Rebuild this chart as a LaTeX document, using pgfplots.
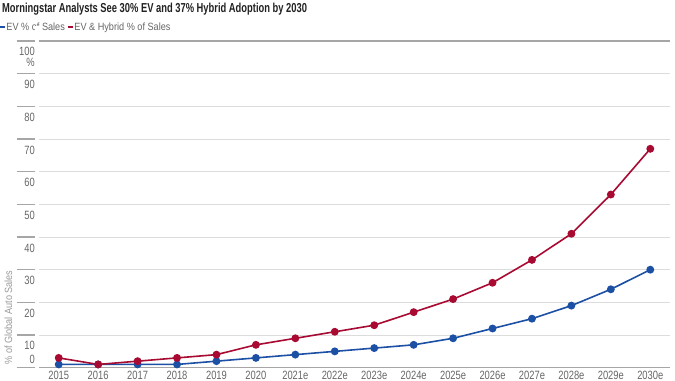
\documentclass[border=0pt]{standalone}
\usepackage{fontspec}
\setmainfont{Liberation Sans}
\newfontfamily\condfont[FakeStretch=0.78]{Liberation Sans}
\newfontfamily\legcondfont[FakeStretch=0.87]{Liberation Sans}
\newfontfamily\titlecondfont[FakeStretch=0.72]{Liberation Sans}
\usepackage{pgfplots}
\pgfplotsset{compat=1.18}
\definecolor{evblue}{HTML}{1B50A5}
\definecolor{hybred}{HTML}{A80A32}
\definecolor{tickgray}{HTML}{666666}
\definecolor{gridgray}{HTML}{DCDCDC}
\definecolor{linegray}{HTML}{A6A6A6}
\definecolor{labgray}{HTML}{9A9A9A}
\newcommand\tickfont{\condfont\fontsize{12bp}{11bp}\selectfont}
\newcommand\legfont{\legcondfont\fontsize{10.5bp}{12bp}\selectfont}
\begin{document}
\begin{tikzpicture}
\useasboundingbox (0,0) rectangle (675bp,381bp);
\begin{axis}[
  at={(39bp,13.3bp)}, anchor=south west,
  scale only axis, width=631bp, height=326.7bp,
  xmin=-0.5, xmax=15.5, ymin=0, ymax=100,
  separate axis lines,
  x axis line style={draw=linegray, line width=1.2bp},
  y axis line style={draw=none},
  xtick={0,...,15},
  xticklabels={2015,2016,2017,2018,2019,2020,2021e,2022e,2023e,2024e,2025e,2026e,2027e,2028e,2029e,2030e},
  ytick={0,10,...,100},
  yticklabels={,,,,,,,,,,},
  tick align=outside,
  major tick length=22.3bp,
  xtick pos=bottom, ytick pos=left,
  xtick style={draw=none},
  ytick style={draw=linegray, line width=1.2bp},
  ymajorgrids,
  grid style={draw=gridgray, line width=1bp},
  extra y ticks={95.3,86.63,76.63,66.63,56.63,46.63,36.63,26.63,16.63,6.7,2.5},
  extra y tick labels={{100\\\%},90,80,70,60,50,40,30,20,10,0},
  extra y tick style={grid=none, major tick length=0pt, tick style={draw=none}},
  yticklabel style={font=\tickfont, text=tickgray, align=right, anchor=east, inner xsep=4bp},
  xticklabel style={font=\tickfont, text=tickgray, anchor=north, inner ysep=3.5bp},
  xticklabel shift=-22.3bp,
  ylabel={\% of Global Auto Sales},
  ylabel style={at={(axis description cs:-0.0487,0.1537)}, anchor=center, font=\legfont, text=labgray},
  legend columns=-1,
  legend style={at={(axis description cs:-0.0634,1)}, anchor=south west, yshift=8.8bp,
    draw=none, fill=none, inner sep=0pt, font=\legfont, text=tickgray,
    nodes={inner sep=0.3bp},
    /tikz/every odd column/.append style={column sep=0bp},
    /tikz/every even column/.append style={column sep=2bp}},
  legend image code/.code={\draw[#1, mark=none, line width=2bp] (0bp,0bp) -- (5bp,0bp);},
]
\addplot[evblue, line width=1.6bp, mark=*, mark size=3.1bp] coordinates {
 (0,1) (1,1) (2,1) (3,1) (4,2) (5,3) (6,4) (7,5) (8,6) (9,7) (10,9) (11,12) (12,15) (13,19) (14,24) (15,30)};
\addlegendentry{EV \% of Sales}
\addplot[hybred, line width=1.6bp, mark=*, mark size=3.1bp] coordinates {
 (0,3) (1,1) (2,2) (3,3) (4,4) (5,7) (6,9) (7,11) (8,13) (9,17) (10,21) (11,26) (12,33) (13,41) (14,53) (15,67)};
\addlegendentry{EV \& Hybrid \% of Sales}
\end{axis}
\fill[white] (35bp,12bp) rectangle (38.6bp,355bp);
\node[anchor=base west, inner sep=0pt, text=black!87, font=\titlecondfont\bfseries\fontsize{13bp}{15bp}\selectfont] at (2bp,368.3bp) {Morningstar Analysts See 30\% EV and 37\% Hybrid Adoption by 2030};
\end{tikzpicture}
\end{document}
